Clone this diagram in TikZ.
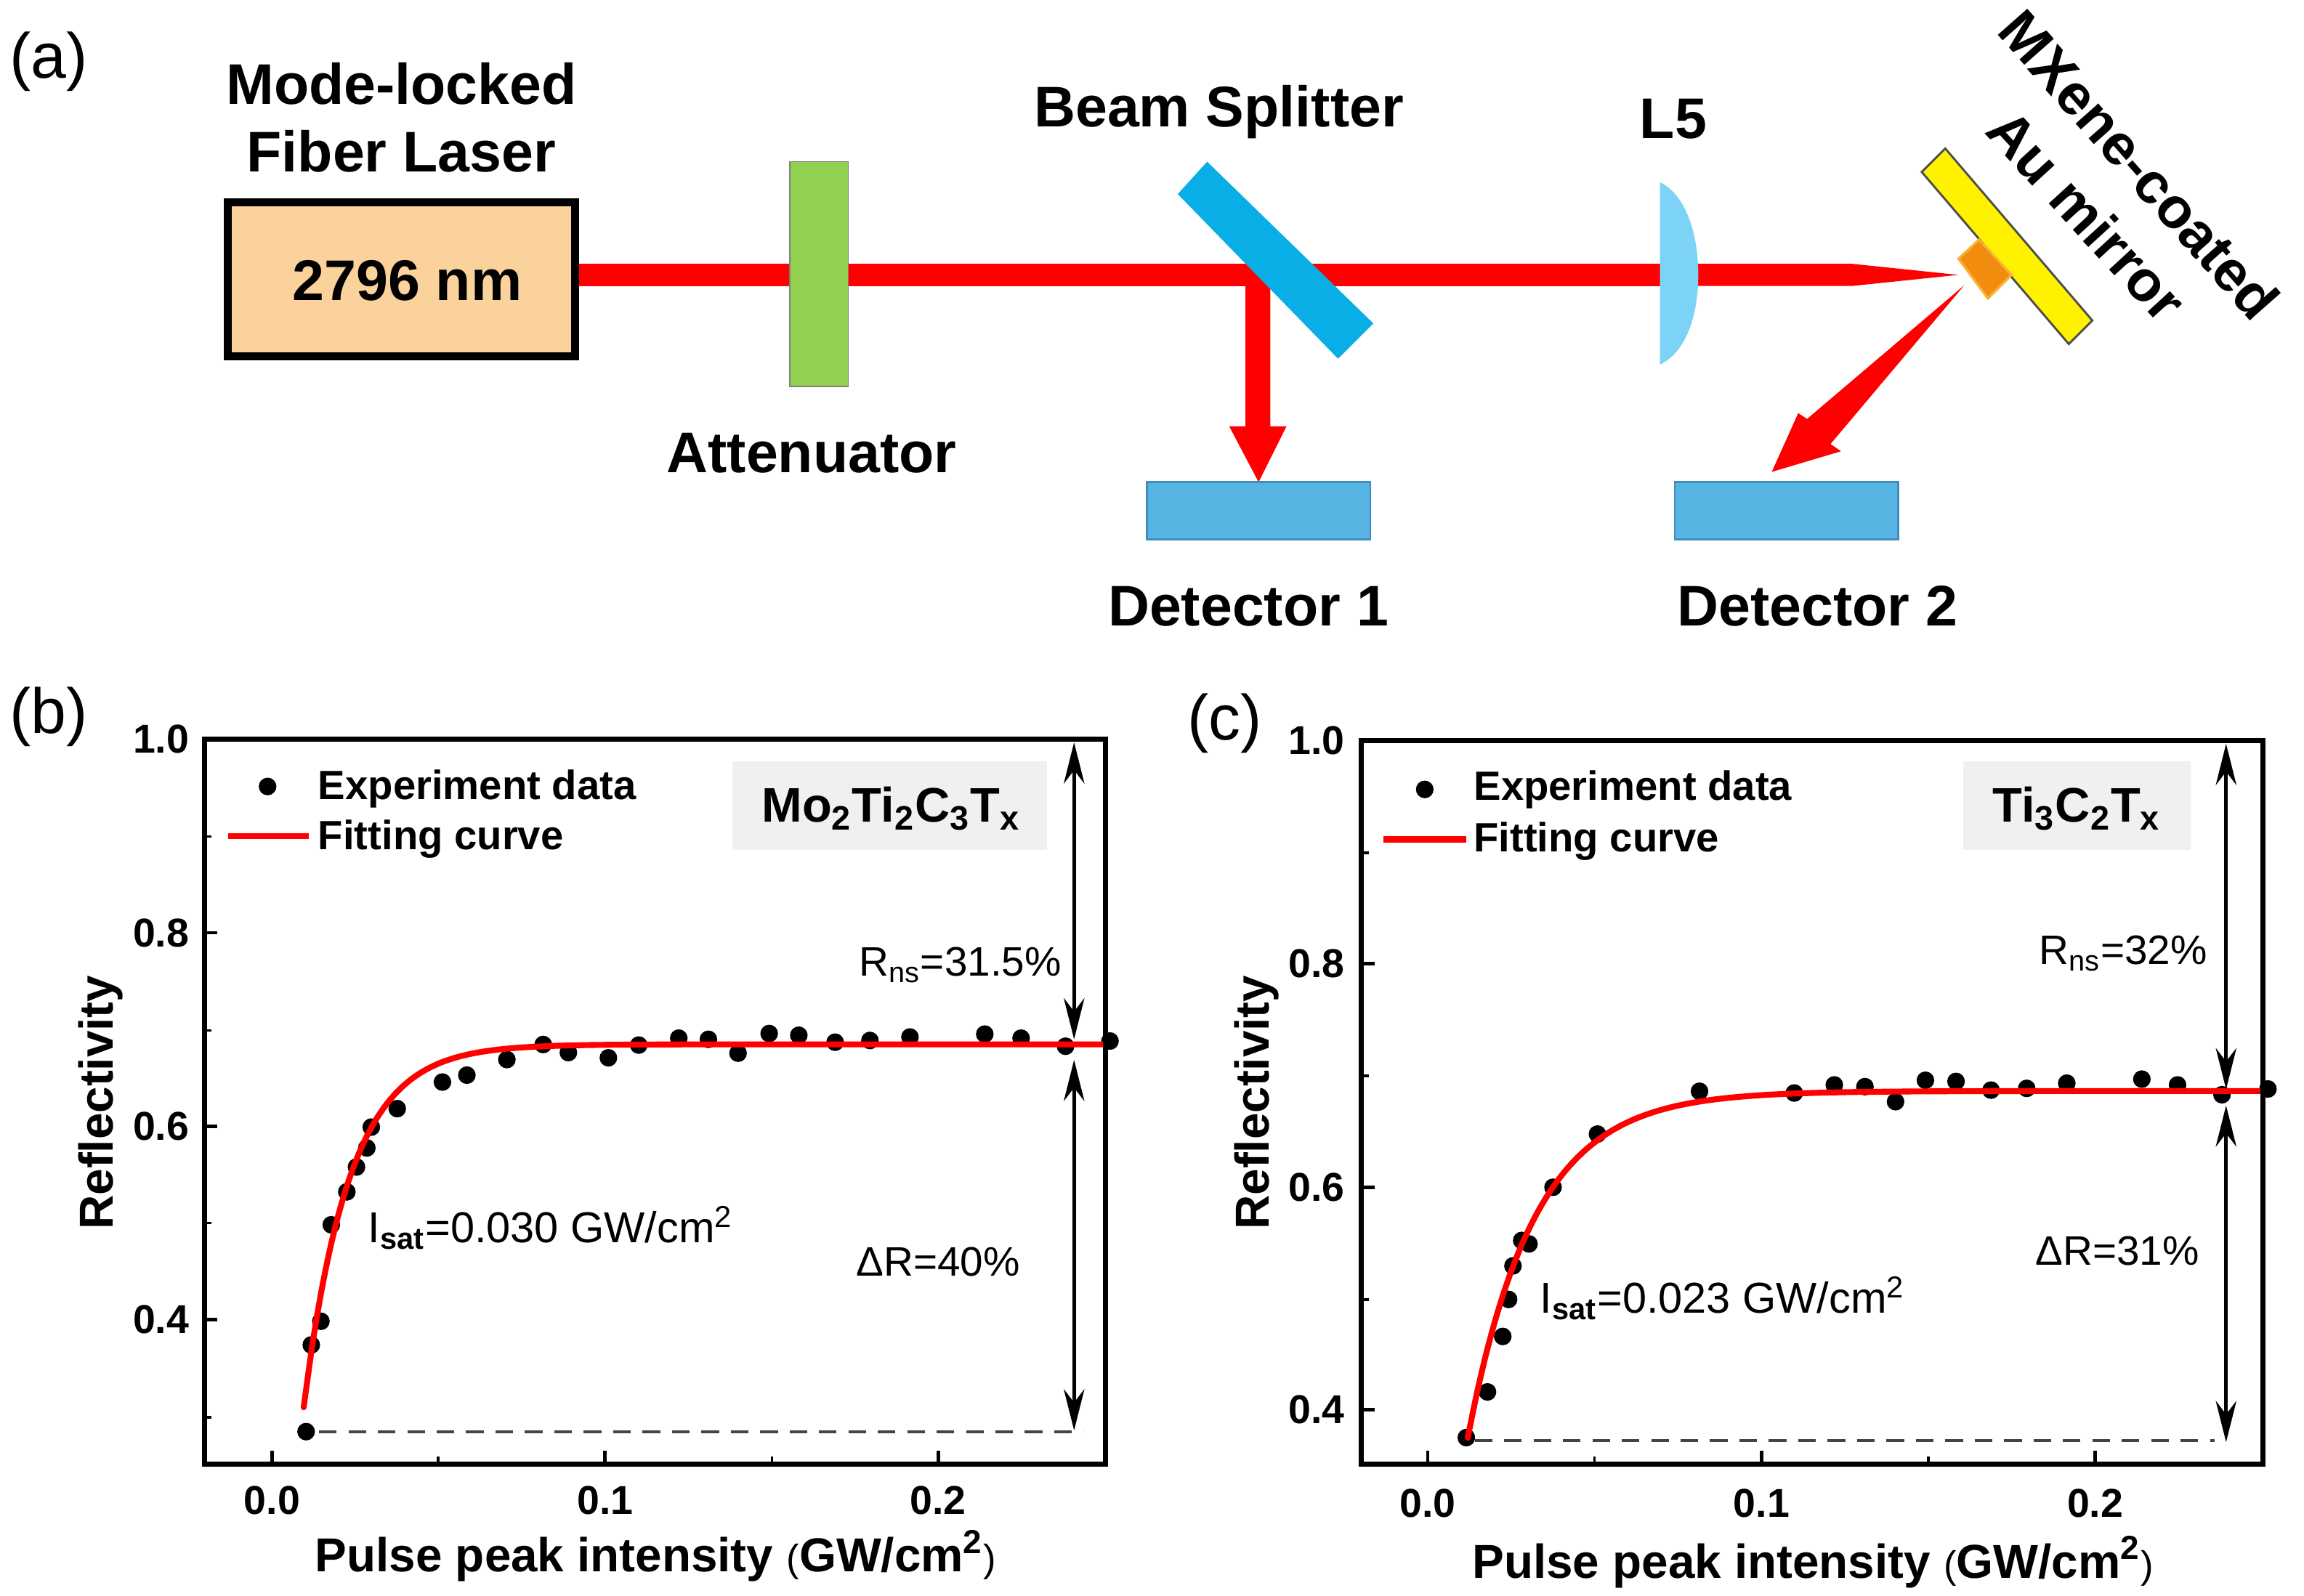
\documentclass[tikz,border=0pt]{standalone}
\usepackage{fontspec}
\setmainfont{Liberation Sans}
\usetikzlibrary{arrows.meta}
\definecolor{peach}{HTML}{FBD29B}
\definecolor{grn}{HTML}{92D050}
\definecolor{bsblue}{HTML}{0AAEE6}
\definecolor{lensblue}{HTML}{7DD3F5}
\definecolor{detblue}{HTML}{57B4E3}
\definecolor{detedge}{HTML}{3E8FBC}
\definecolor{orng}{HTML}{F28C0F}
\definecolor{orngedge}{HTML}{F9B233}
\definecolor{labelgray}{HTML}{F0F0F0}
\definecolor{dashgray}{HTML}{444444}
\definecolor{beamred}{HTML}{FF0000}
\newcommand{\fs}[1]{\fontsize{#1}{#1}\selectfont}
\tikzset{
  lab/.style={inner sep=0pt,font=\fs{19.5}\bfseries},
  panel/.style={inner sep=0pt,font=\fs{21.7}},
  tick/.style={inner sep=0pt,font=\fs{13.7}\bfseries},
  axlab/.style={inner sep=0pt,font=\fs{16.2}\bfseries},
  leg/.style={inner sep=0pt,font=\fs{13.9}\bfseries},
  anno/.style={inner sep=0pt,font=\fs{14}},
  frame/.style={draw=black,line width=1.7pt},
  major/.style={draw=black,line width=1.2pt},
  minor/.style={draw=black,line width=0.9pt},
  fit/.style={draw=beamred,line width=2pt},
  datadot/.style={fill=black},
  dbl/.style={draw=black,line width=1.3pt,{Stealth[length=14pt,width=7pt]}-{Stealth[length=14pt,width=7pt]}},
  guide/.style={draw=dashgray,line width=1pt,dash pattern=on 6pt off 4pt},
  detbox/.style={draw=detedge,fill=detblue,line width=0.7pt,minimum width=76pt,minimum height=19.5pt,inner sep=0pt},
}
\begin{document}
\begin{tikzpicture}[x=0.5pt,y=-0.5pt]
\useasboundingbox (0,0) rectangle (1567,1085.2);
\fill[white] (0,0) rectangle (1567,1085.2);

% ---------- panel (a)
\node[panel] (pa) at (33,42) {(a)};
\node[lab] (t1) at (273,57) {Mode-locked};
\node[lab] (t2) at (273,103) {Fiber Laser};
\node[lab] (tb) at (829,76) {Beam Splitter};
\node[lab] (tl) at (1138,81) {L5};
\node[lab] (ta) at (552,308) {Attenuator};
\node[lab] (td1) at (849,412.5) {Detector 1};
\node[lab] (td2) at (1236,412.5) {Detector 2};
\node[lab,rotate=-48.5] (tm) at (1455,112) {MXene-coated};
\node[lab,rotate=-47.5] (tau) at (1419.5,146.5) {Au mirror};

% beams
\fill[beamred] (391,179.5) rectangle (1155,194.5);
\fill[beamred] (1150,179.5) -- (1260,179.5) -- (1332,187) -- (1260,194.5) -- (1150,194.5) -- cycle;
\fill[beamred] (847,187) -- (864,187) -- (864,290) -- (875,290) -- (856,328) -- (836,290) -- (847,290) -- cycle;
\fill[beamred] (1336,194) -- (1245,302) -- (1252,307) -- (1205,321) -- (1223,281) -- (1229,285) -- cycle;

% components
\node[draw=black,fill=peach,line width=2.6pt,minimum width=118pt,minimum height=52.5pt,inner sep=0pt] (laser) at (273,190) {};
\node[inner sep=0pt,font=\fs{19.5}\bfseries] (lt) at (277,191) {2796 nm};
\node[draw=gray,fill=grn,line width=0.4pt,minimum width=20pt,minimum height=76.5pt,inner sep=0pt] (att) at (557,186.5) {};
\fill[bsblue] (801,132) -- (821,110) -- (934,220) -- (910,244) -- cycle;
\fill[lensblue] (1129,124) .. controls (1146,132) and (1155,158) .. (1155,187) .. controls (1155,216) and (1146,240) .. (1129,248) -- cycle;
\node[detbox] (d1) at (856,347.5) {};
\node[detbox] (d2) at (1215,347.5) {};
\draw[draw=black!70,fill=yellow,line width=0.7pt] (1323,101) -- (1307,117) -- (1407,234) -- (1423,218) -- cycle;
\draw[draw=orngedge,fill=orng,line width=0.8pt] (1332,176) -- (1346,163) -- (1368,187) -- (1352,203) -- cycle;

% ---------- panel (b)
\node[panel] (pb) at (33,487.5) {(b)};
\fill[labelgray] (498,518) rectangle (712,578);
\foreach \v/\y in {1.0/503,0.8/634.5,0.6/766,0.4/897.5}{
  \node[tick,anchor=east] at (129,\y) {\v};
  \draw[major] (139,\y) -- (148,\y);
}
\foreach \y in {569,701,832,964}{ \draw[minor] (139,\y) -- (144,\y); }
\foreach \v/\x in {0.0/185,0.1/411.5,0.2/638}{
  \node[tick] at (\x,1020.5) {\v};
  \draw[major] (\x,996) -- (\x,987);
}
\foreach \x in {298,525}{ \draw[minor] (\x,996) -- (\x,991); }
\node[axlab,rotate=90] (yb) at (68.5,750) {Reflectivity};
\node[axlab,anchor=west] (xb) at (214,1058.5) {Pulse peak intensity {\fs{13}\mdseries(}GW/cm\textsuperscript{2}{\fs{13}\mdseries)}};
\draw[guide] (217,974) -- (737,974);
\foreach \a/\b in {413/1283,420/1133,433/1092,447/925,468/868,481/825,495/792,501/756,536/724,597/678,630/666,684/639,733/613,767/627,821/636,862/614,916/602,956/604,996/628,1038/594,1078/597,1127/609,1174/606,1228/600,1329/595,1378/602,1438/616,1498/607}{
  \fill[datadot] ({185+(\a-367)*0.5039},{503+(\b-85)*0.39304}) circle (6);
}
\draw[fit,line cap=round] plot[domain=0.0095:0.2503,samples=90,smooth,variable=\x]
  ({185+2265*\x},{503+(1-(0.685-0.375*exp(-(\x-0.0095)/0.0138)))*658.4});
\draw[frame] (139,503) rectangle (752,996);
\coordinate (bu1) at (730.5,505);
\coordinate (bu2) at (730.5,707);
\coordinate (bl1) at (730.5,721);
\coordinate (bl2) at (730.5,973);
\draw[dbl] (bu1) -- (bu2);
\draw[dbl] (bl1) -- (bl2);
\fill[datadot] (182,535) circle (6);
\node[leg,anchor=west] (lb1) at (216,536.5) {Experiment data};
\coordinate (lbs) at (155,569);
\coordinate (lbe) at (210,569);
\draw[fit] (lbs) -- (lbe);
\node[leg,anchor=west] (lb2) at (216,571) {Fitting curve};
\node[inner sep=0pt,font=\fs{16.5}\bfseries] (nb) at (606,550) {Mo\textsubscript{2}Ti\textsubscript{2}C\textsubscript{3}T\textsubscript{x}};
\node[anno] (rb) at (653,656.5) {R\textsubscript{ns}=31.5\%};
\node[anno] (db) at (638,858.5) {ΔR=40\%};
\node[anno,anchor=west,font=\fs{14.7}] (ib) at (250,835) {I\textsubscript{\bfseries sat}=0.030 GW/cm\textsuperscript{2}};

% ---------- panel (c)
\node[panel] (pc) at (833,492) {(c)};
\fill[labelgray] (1335,518) rectangle (1490,578);
\foreach \v/\y in {1.0/504,0.8/655.5,0.6/807.5,0.4/959}{
  \node[tick,anchor=east] at (915,\y) {\v};
  \draw[major] (926,\y) -- (935,\y);
}
\foreach \y in {580,732,884}{ \draw[minor] (926,\y) -- (931,\y); }
\foreach \v/\x in {0.0/971,0.1/1198,0.2/1425}{
  \node[tick] at (\x,1022.5) {\v};
  \draw[major] (\x,996) -- (\x,987);
}
\foreach \x in {1084.5,1311.5}{ \draw[minor] (\x,996) -- (\x,991); }
\node[axlab,rotate=90] (yc) at (854.5,750) {Reflectivity};
\node[axlab,anchor=west] (xc) at (1001,1062.5) {Pulse peak intensity {\fs{13}\mdseries(}GW/cm\textsuperscript{2}{\fs{13}\mdseries)}};
\draw[guide] (1003,980) -- (1506,980);
\foreach \a/\b in {418/1293,447/1214,468/1118,476/1054,482/996,494/952,504/958,537/860,598/768,738/694,868/697,923/683,965/686,1007/712,1048/675,1090/677,1138/692,1187/689,1242/680,1345/673,1394/683,1455/700,1518/690}{
  \fill[datadot] ({971+(\a-365)*0.4956},{504+(\b-88)*0.3933}) circle (6);
}
\draw[fit,line cap=round] plot[domain=0.012:0.25,samples=90,smooth,variable=\x]
  ({971+2270*\x},{504+(1-(0.686-0.311*exp(-(\x-0.012)/0.0199)))*758.5});
\draw[frame] (926,504) rectangle (1539,996);
\coordinate (cu1) at (1514,506);
\coordinate (cu2) at (1514,741);
\coordinate (cl1) at (1514,752);
\coordinate (cl2) at (1514,981);
\draw[dbl] (cu1) -- (cu2);
\draw[dbl] (cl1) -- (cl2);
\fill[datadot] (969,537) circle (6);
\node[leg,anchor=west] (lc1) at (1002,537) {Experiment data};
\coordinate (lcs) at (941,571);
\coordinate (lce) at (997,571);
\draw[fit] (lcs) -- (lce);
\node[leg,anchor=west] (lc2) at (1002,572.5) {Fitting curve};
\node[inner sep=0pt,font=\fs{16.5}\bfseries] (nc) at (1412.5,550) {Ti\textsubscript{3}C\textsubscript{2}T\textsubscript{x}};
\node[anno] (rc) at (1444,648.5) {R\textsubscript{ns}=32\%};
\node[anno] (dc) at (1440,851) {ΔR=31\%};
\node[anno,anchor=west,font=\fs{14.7}] (ic) at (1047,883) {I\textsubscript{\bfseries sat}=0.023 GW/cm\textsuperscript{2}};
\end{tikzpicture}
\end{document}
